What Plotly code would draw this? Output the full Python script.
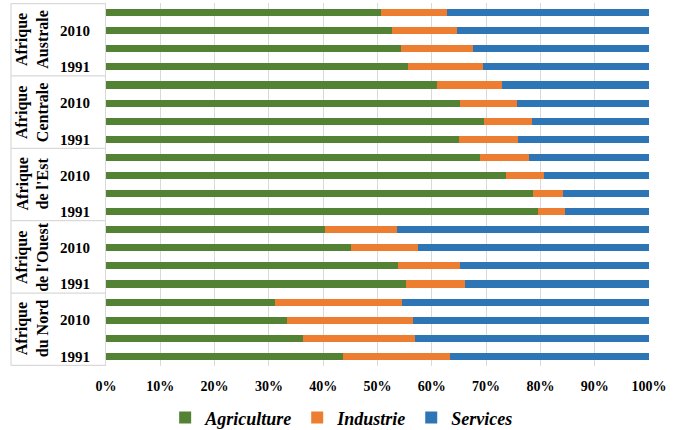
import plotly.graph_objects as go

# Sector shares of employment (%) by African region, four periods per region
regions = ["Afrique<br>Australe", "Afrique<br>Centrale", "Afrique<br>de l'Est",
           "Afrique<br>de l'Ouest", "Afrique<br>du Nord"]
periods = ["2019", "2010", "2000", "1991"]
period_labels = ["", "2010", "", "1991"]

agriculture = [50.6, 52.7, 54.3, 55.6,
               60.9, 65.2, 69.6, 65.0,
               68.8, 73.6, 78.7, 79.6,
               40.3, 45.1, 53.7, 55.2,
               31.1, 33.3, 36.3, 43.6]
industrie = [12.2, 12.0, 13.3, 13.9,
             12.1, 10.5, 8.9, 10.9,
             9.1, 7.0, 5.4, 4.9,
             13.3, 12.3, 11.5, 11.0,
             23.5, 23.3, 20.6, 19.8]
services = [37.2, 35.3, 32.4, 30.5,
            27.0, 24.3, 21.5, 24.1,
            22.1, 19.4, 15.9, 15.5,
            46.4, 42.6, 34.8, 33.8,
            45.4, 43.4, 43.1, 36.6]

rows = [f"{r.replace('<br>', ' ')} {p}" for r in regions for p in periods]
row_text = [lab for _ in regions for lab in period_labels]

SERIF = "Liberation Serif, Times New Roman, DejaVu Serif, serif"
GRID = "#d9d9d9"

fig = go.Figure()
for name, vals, color in [("Agriculture", agriculture, "#548235"),
                          ("Industrie", industrie, "#ed7d31"),
                          ("Services", services, "#2e75b6")]:
    fig.add_trace(go.Bar(y=rows, x=vals, name=name, orientation="h",
                         marker=dict(color=color, line=dict(width=0))))

# Region group labels and separators on the category side
n = len(periods)
x_left = -95 / 543
for i, reg in enumerate(regions):
    fig.add_annotation(x=-74 / 543, y=i * n + (n - 1) / 2, xref="paper", yref="y",
                       text=f"<b>{reg}</b>", textangle=-90, showarrow=False,
                       font=dict(family=SERIF, size=16, color="#000000"),
                       xanchor="center", yanchor="middle")
for k in range(len(regions) + 1):
    yb = k * n - 0.5
    fig.add_shape(type="line", xref="paper", yref="y", x0=x_left, x1=0,
                  y0=yb, y1=yb, line=dict(color=GRID, width=1.2))
fig.add_shape(type="line", xref="paper", yref="y", x0=x_left, x1=x_left,
              y0=-0.5, y1=len(rows) - 0.5, line=dict(color=GRID, width=1.2))

fig.update_layout(
    barmode="stack",
    bargap=0.61,
    width=678, height=430,
    margin=dict(l=106, r=29, t=3, b=64, autoexpand=False),
    paper_bgcolor="white", plot_bgcolor="white",
    font=dict(family=SERIF, color="#000000"),
    showlegend=True,
    legend=dict(orientation="h", traceorder="normal",
                x=0.434, xanchor="center", y=-0.143, yanchor="middle",
                font=dict(family=SERIF, size=18, style="italic", weight="bold"),
                itemwidth=30, tracegroupgap=0),
)
fig.update_xaxes(range=[0, 100], dtick=10, ticksuffix="%", showgrid=True,
                 gridcolor=GRID, gridwidth=1, zeroline=False, showline=False,
                 ticks="", ticklabelstandoff=10,
                 tickfont=dict(family=SERIF, size=14, weight="bold"))
fig.update_yaxes(categoryorder="array", categoryarray=rows, autorange="reversed",
                 tickvals=rows, ticktext=row_text, showgrid=False, ticks="",
                 showline=True, linecolor=GRID, linewidth=1, ticklabelstandoff=12,
                 tickfont=dict(family=SERIF, size=15, weight="bold"))

fig.write_html("out.html")
